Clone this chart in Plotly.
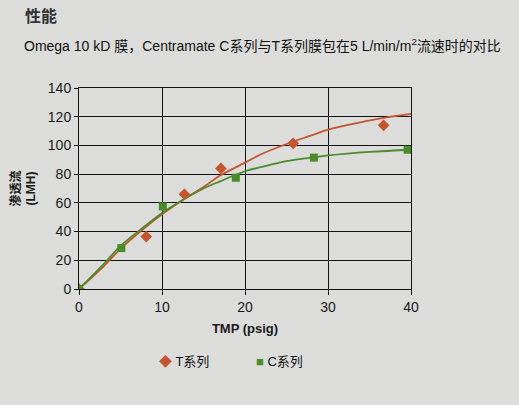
import plotly.graph_objects as go

# Measured points
t_x = [0, 8.1, 12.7, 17.1, 25.8, 36.7]
t_y = [0, 36.5, 66, 84, 101.5, 114]
c_x = [0, 5.1, 10.1, 18.9, 28.3, 39.6]
c_y = [0, 28.5, 57.5, 77.5, 91.5, 97]

# Fitted trend curves
t_curve_x = [0, 3, 5, 8, 10, 12.5, 15, 17, 20, 22, 25, 28, 30, 33, 36, 40]
t_curve_y = [0, 16, 28, 43, 52, 62, 71, 79, 88, 94, 101, 107, 111, 115, 118.5, 122]
c_curve_x = [0, 3, 5, 8, 10, 12.5, 15, 17, 20, 22, 25, 28, 30, 35, 40]
c_curve_y = [0, 17.5, 30, 44, 53, 62, 70, 75, 82, 85, 89, 91.5, 93, 95.5, 97]

x_ticks = [0, 10, 20, 30, 40]
y_ticks = [0, 20, 40, 60, 80, 100, 120, 140]

RED = "#c4552e"
GREEN = "#4a8c2a"
BG = "#dcdcda"
FONT = "Liberation Sans, Noto Sans CJK SC, sans-serif"

L, R, T, B = 78.5, 108, 88, 116
W, H = 519, 405
pw = W - L - R
ph = H - T - B


def px2paper(px, py):
    return (px - L) / pw, 1 + (T - py) / ph


fig = go.Figure()
fig.add_trace(go.Scatter(x=t_curve_x, y=t_curve_y, mode="lines", line=dict(color=RED, width=1.8, shape="spline"),
                         showlegend=False, hoverinfo="skip"))
fig.add_trace(go.Scatter(x=c_curve_x, y=c_curve_y, mode="lines", line=dict(color=GREEN, width=1.8, shape="spline"),
                         showlegend=False, hoverinfo="skip"))
fig.add_trace(go.Scatter(x=t_x, y=t_y, mode="markers", name="T系列", showlegend=False,
                         marker=dict(symbol="diamond", size=9, color=RED)))
fig.add_trace(go.Scatter(x=c_x, y=c_y, mode="markers", name="C系列", showlegend=False,
                         marker=dict(symbol="square", size=8, color=GREEN)))

annots = []
def add_text(text, px, py, size, color="#111", family=FONT, anchor="left"):
    x, y = px2paper(px, py)
    annots.append(dict(text=text, x=x, y=y, xref="paper", yref="paper", showarrow=False,
                       xanchor=anchor, yanchor="middle", font=dict(size=size, color=color, family=family)))

add_text("<b>性能</b>", 22, 15, 16, color="#333", family="Noto Sans CJK SC")
add_text("Omega 10 kD 膜，Centramate C系列与T系列膜包在5 L/min/m<sup>2</sup>流速时的对比", 21, 45, 14)
add_text(f"<span style='color:{RED}'>◆</span> T系列", 157, 361, 13)
add_text(f"<span style='color:{GREEN}'>■</span> C系列", 254, 361, 13)

fig.update_layout(
    width=W, height=H,
    margin=dict(l=L, r=R, t=T, b=B),
    paper_bgcolor=BG, plot_bgcolor=BG,
    font=dict(family=FONT, color="#1a1a1a", size=12),
    showlegend=False,
    xaxis=dict(range=[0, 40], tickvals=x_ticks, showgrid=True, gridcolor="#111", gridwidth=1,
               showline=True, linecolor="#111", mirror=True, ticks="outside", ticklen=5, tickcolor="#111",
               zeroline=False, tickfont=dict(size=14),
               title=dict(text="<b>TMP (psig)</b>", font=dict(size=13), standoff=10)),
    yaxis=dict(range=[0, 140], tickvals=y_ticks, showgrid=True, gridcolor="#111", gridwidth=1,
               showline=True, linecolor="#111", mirror=True, ticks="outside", ticklen=4, tickcolor="#111",
               zeroline=False, tickfont=dict(size=14),
               title=dict(text="<b>渗透流<br>(LMH)</b>", font=dict(size=12), standoff=9)),
    annotations=annots,
)

fig.write_html("out.html", config={"displayModeBar": False},
               post_script="document.body.style.margin='0px';document.body.style.background='%s';" % BG)
